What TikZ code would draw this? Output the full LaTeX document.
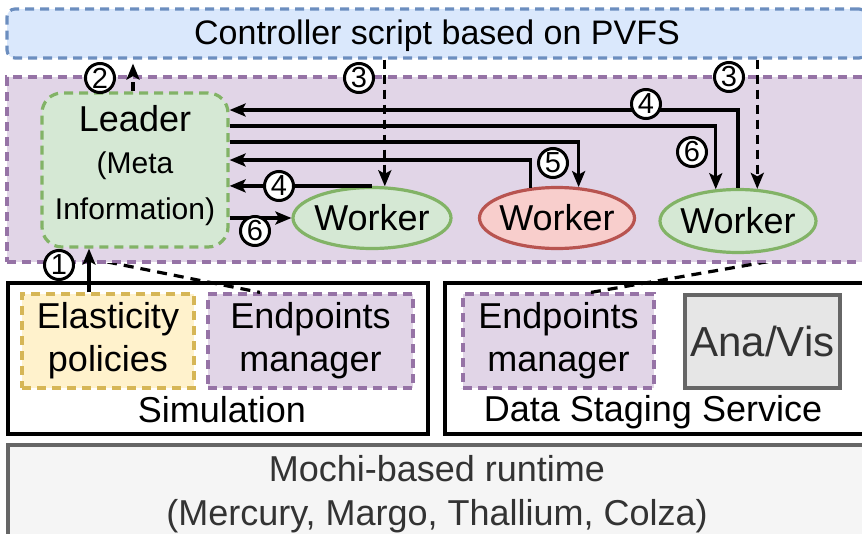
\documentclass[tikz,border=0pt]{standalone}
\usepackage{fontspec}
\setmainfont{Liberation Sans}
\usetikzlibrary{arrows.meta,shapes.geometric}

\definecolor{blueFill}{HTML}{DAE8FC}
\definecolor{blueLine}{HTML}{6C8EBF}
\definecolor{purpFill}{HTML}{E1D5E7}
\definecolor{purpLine}{HTML}{9673A6}
\definecolor{greenFill}{HTML}{D5E8D4}
\definecolor{greenLine}{HTML}{82B366}
\definecolor{redFill}{HTML}{F8CECC}
\definecolor{redLine}{HTML}{B85450}
\definecolor{yelFill}{HTML}{FFF2CC}
\definecolor{yelLine}{HTML}{D6B656}
\definecolor{grayFill}{HTML}{E6E6E6}
\definecolor{grayLine}{HTML}{666666}
\definecolor{grayText}{HTML}{333333}
\definecolor{lightFill}{HTML}{F5F5F5}

\begin{document}
\begin{tikzpicture}[x=1pt,y=-1pt,
  every node/.style={inner sep=0pt},
  big/.style={font=\fontsize{36}{43}\selectfont},
  mid/.style={font=\fontsize{30}{36}\selectfont},
  dsh/.style={dash pattern=on 9pt off 6pt},
  box/.style={draw, rectangle, line width=3.2pt},
  dbox/.style={box, dsh},
  worker/.style={ellipse, draw, line width=3.2pt, minimum width=157pt, minimum height=61pt, big},
  conn/.style={line width=3.2pt, -{Stealth[length=16pt,width=13pt,inset=3.5pt]}},
  dconn/.style={conn, dash pattern=on 9pt off 6pt},
  tie/.style={line width=3.2pt, dash pattern=on 10pt off 7pt},
  cnum/.style={circle, draw, fill=white, line width=3pt, minimum size=29pt,
    font=\fontsize{29}{29}\selectfont},
]
\useasboundingbox (0,0) rectangle (862,533);
\begin{scope}
\clip (0,0) rectangle (862,533);

% ---------- runtime layer ----------
\node[box, draw=grayLine, fill=lightFill, minimum width=862pt, minimum height=120pt] (mochi) at (439,505) {};
\node[big, text=grayText] (mochi1) at (437,469) {Mochi-based runtime};
\node[big, text=grayText] (mochi2) at (437,516) {(Mercury, Margo, Thallium, Colza)};

% ---------- simulation ----------
\node[box, fill=white, minimum width=420pt, minimum height=151pt] (sim) at (218,358.5) {};
\node[big] (simtxt) at (222,410) {Simulation};
\node[dbox, draw=yelLine, fill=yelFill, minimum width=172pt, minimum height=94pt, align=center, big] (elast) at (108,341) {Elasticity\\policies};
\node[dbox, draw=purpLine, fill=purpFill, minimum width=205pt, minimum height=94pt, align=center, big] (ep1) at (310.5,341) {Endpoints\\manager};

% ---------- data staging service ----------
\node[box, fill=white, minimum width=425pt, minimum height=151pt] (dss) at (657.5,358.5) {};
\node[big] (dsstxt) at (653,412) {Data Staging Service};
\node[dbox, draw=purpLine, fill=purpFill, minimum width=191pt, minimum height=94pt, align=center, big] (ep2) at (558.5,341) {Endpoints\\manager};
\node[box, draw=grayLine, fill=grayFill, minimum width=155pt, minimum height=93pt, text=grayText, font=\fontsize{42}{42}\selectfont] (anavis) at (762.5,341.5) {Ana/Vis};

% ---------- controller ----------
\node[dbox, draw=blueLine, fill=blueFill, rounded corners=8pt, minimum width=860pt, minimum height=49pt] (ctrlbox) at (437,33.5) {};
\node[font=\fontsize{34}{40}\selectfont] (ctrl) at (437,36) {Controller script based on PVFS};

% ---------- PVFS group ----------
\node[dbox, draw=purpLine, fill=purpFill, minimum width=860pt, minimum height=185pt] (group) at (437,169.5) {};
\node[dbox, draw=greenLine, fill=greenFill, rounded corners=20pt, minimum width=186pt, minimum height=154pt] (leader) at (135,170) {};
\node[big] (lead1) at (135,119) {Leader};
\node[mid] (lead2) at (135,166) {(Meta};
\node[mid] (lead3) at (135,212) {Information)};

\node[worker, draw=greenLine, fill=greenFill, minimum width=158pt] (w1) at (372,218) {\makebox[0pt]{Worker}};
\node[worker, draw=redLine, fill=redFill, minimum width=155pt] (w2) at (557,218) {\makebox[0pt]{Worker}};
\node[worker, draw=greenLine, fill=greenFill, minimum width=156pt, minimum height=63pt] (w3) at (738,221) {\makebox[0pt]{Worker}};

% ---------- connectors ----------
\draw[conn] (89,0 |- elast.north) -- (89,0 |- leader.south);
\draw[dconn, shorten >=4pt] (133,0 |- leader.north) -- (133,0 |- ctrlbox.south);
\draw[dconn] (ctrlbox.south -| w1.68) -- (w1.68);
\draw[dconn] (ctrlbox.south -| w3.59) -- (w3.59);
\draw[conn] (w3.north) |- (leader.east |- 0,110);
\draw[conn] (leader.east |- 0,126) -| (w3.125);
\draw[conn] (leader.east |- 0,142) -| (w2.55);
\draw[conn] (w2.131) |- (leader.east |- 0,160);
\draw[conn] (w1.north) -- (leader.east |- w1.north);
\draw[conn] (leader.east |- w1.west) -- (w1.west);

% step numbers
\node[cnum] (n1) at (59,265) {1};
\node[cnum] (n2) at (100,78) {2};
\node[cnum] (n3a) at (359,78) {3};
\node[cnum] (n3b) at (729,77) {3};
\node[cnum] (n4a) at (646,104) {4};
\node[cnum] (n4b) at (279,186) {4};
\node[cnum] (n5) at (553,163) {5};
\node[cnum] (n6a) at (692,152) {6};
\node[cnum] (n6b) at (255,231) {6};
\end{scope}

% links from the group down to the endpoint managers
\coordinate (dsrc) at (852,247);
\begin{scope}
\clip (0,263) rectangle (862,533);
\draw[tie] (leader.south west) -- (260,0 |- ep1.north);
\draw[tie] (dsrc) -- (591,0 |- ep2.north);
\end{scope}
\end{tikzpicture}
\end{document}
